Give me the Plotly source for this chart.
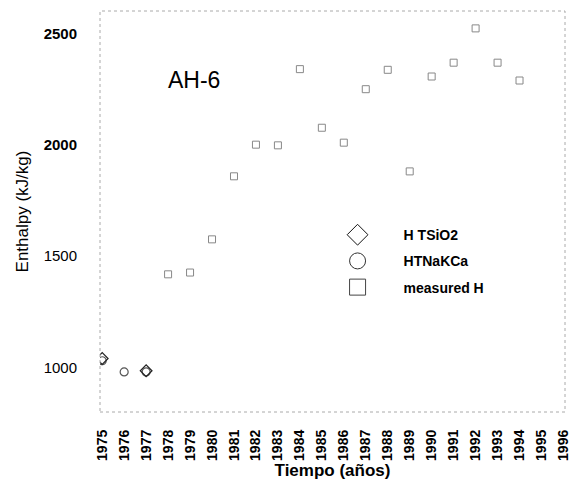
import plotly.graph_objects as go

years = list(range(1975, 1997))
tsio2_years = [1975, 1977]
tsio2_vals = [1040, 985]
nakca_years = [1975, 1976, 1977]
nakca_vals = [1030, 980, 980]
meas_years = [1978, 1979, 1980, 1981, 1982, 1983, 1984, 1985, 1986, 1987,
              1988, 1989, 1990, 1991, 1992, 1993, 1994]
meas_vals = [1418, 1426, 1575, 1858, 2000, 1997, 2339, 2076, 2009, 2249,
             2336, 1880, 2306, 2368, 2522, 2368, 2288]
y_ticks = [1000, 1500, 2000, 2500]
y_ticktext = ["1000", "1500", "<b>2000</b>", "<b>2500</b>"]

fig = go.Figure()
fig.add_trace(go.Scatter(x=meas_years, y=meas_vals, mode="markers", name="measured H",
                         showlegend=False,
                         marker=dict(symbol="square-open", size=7, color="#888",
                                     line=dict(width=1, color="#888"))))
fig.add_trace(go.Scatter(x=nakca_years, y=nakca_vals, mode="markers", name="HTNaKCa",
                         showlegend=False,
                         marker=dict(symbol="circle-open", size=8, color="#555",
                                     line=dict(width=1.2, color="#555"))))
fig.add_trace(go.Scatter(x=tsio2_years, y=tsio2_vals, mode="markers", name="H TSiO2",
                         showlegend=False,
                         marker=dict(symbol="diamond-open", size=9, color="#222",
                                     line=dict(width=1.2, color="#222"))))

# legend-only larger symbols
for i, (nm, sym, col) in enumerate([("H TSiO2", "diamond-open", "#111"),
                                    ("HTNaKCa", "circle-open", "#333"),
                                    ("measured H", "square-open", "#444")]):
    fig.add_trace(go.Scatter(x=[None], y=[None], mode="markers", name=nm, legendgroup=f"g{i}",
                             marker=dict(symbol=sym, size=16, color=col, line=dict(width=1, color=col))))

fig.add_annotation(text="AH-6", x=0.202, y=0.828, xref="paper", yref="paper", showarrow=False,
                   xanchor="center", yanchor="middle",
                   font=dict(family="Liberation Sans, Arial", size=23, color="#000"))

fig.add_shape(type="rect", xref="paper", yref="paper", x0=0, x1=1, y0=0, y1=1,
              line=dict(color="#aaa", width=1, dash="dot"))

fig.update_layout(
    width=577, height=486,
    margin=dict(l=100, r=6, t=11, b=74),
    paper_bgcolor="white", plot_bgcolor="white",
    font=dict(family="Liberation Sans, Arial", color="#000"),
    showlegend=True,
    legend=dict(x=0.455, y=0.481, xanchor="left", yanchor="top", bgcolor="rgba(0,0,0,0)",
                font=dict(size=14, family="Liberation Sans, Arial", weight="bold"),
                itemwidth=82, tracegroupgap=5),
    xaxis=dict(range=[1974.9, 1996.07], tickvals=years, ticktext=[str(y) for y in years],
               tickangle=-90, showgrid=False, zeroline=False, showline=False, ticks="",
               ticklabelstandoff=14,
               tickfont=dict(size=14, weight="bold"),
               title=dict(text="Tiempo (años)", font=dict(size=17, weight="bold"), standoff=0)),
    yaxis=dict(range=[800, 2600], tickvals=y_ticks, ticktext=y_ticktext, showgrid=False,
               zeroline=False, showline=False, ticks="", ticklabelstandoff=22,
               tickfont=dict(size=15),
               title=dict(text="Enthalpy (kJ/kg)", font=dict(size=17), standoff=10)),
)

fig.write_html("out.html")
